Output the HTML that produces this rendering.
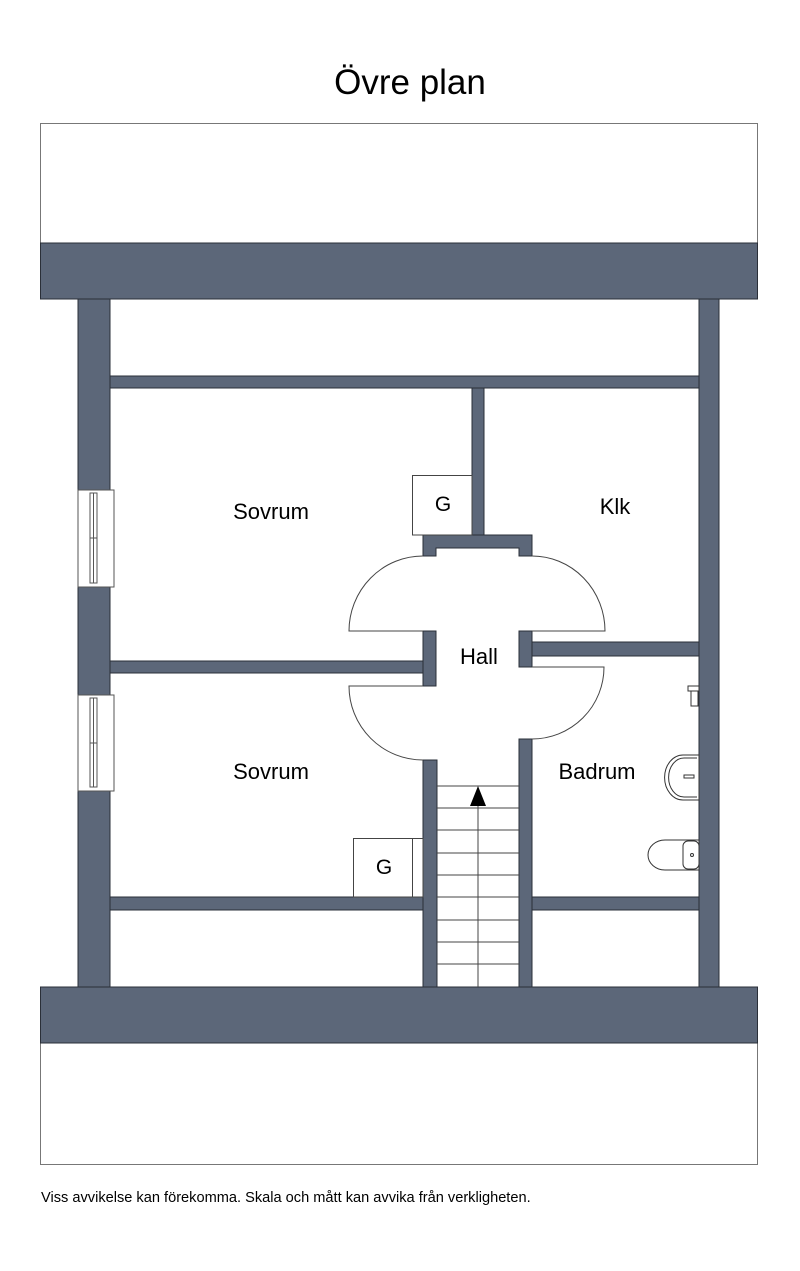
<!DOCTYPE html>
<html><head><meta charset="utf-8"><style>
html,body{margin:0;padding:0;background:#fff;}
svg{display:block;font-family:"Liberation Sans",sans-serif;}
</style></head><body>
<svg width="800" height="1271" viewBox="0 0 800 1271" xmlns="http://www.w3.org/2000/svg">
<text x="410" y="94" font-size="35" text-anchor="middle">Övre plan</text>
<rect x="40.5" y="123.5" width="717" height="120" fill="#fff" stroke="#777" stroke-width="1"/>
<rect x="40.5" y="1043" width="717" height="121.5" fill="#fff" stroke="#777" stroke-width="1"/>
<g fill="#5c6779" stroke="#2a2f38" stroke-width="1">
<rect x="40.5" y="243" width="717" height="56"/>
<rect x="40.5" y="987" width="717" height="56"/>
<rect x="78" y="299" width="32" height="688"/>
<rect x="699" y="299" width="20" height="688"/>
<rect x="110" y="376" width="589" height="12"/>
<rect x="472" y="388" width="12" height="147"/>
<path d="M423 535 H532 V556 H519 V548 H436 V556 H423 Z"/>
<rect x="110" y="661" width="313" height="12"/>
<rect x="423" y="631" width="13" height="55"/>
<rect x="519" y="631" width="13" height="36"/>
<rect x="532" y="642" width="167" height="14"/>
<rect x="423" y="760" width="14" height="227"/>
<rect x="519" y="739" width="13" height="248"/>
<rect x="110" y="897" width="313" height="13"/>
<rect x="532" y="897" width="167" height="13"/>
</g>
<!-- windows -->
<g fill="#fff" stroke="#555" stroke-width="1">
<rect x="78" y="490" width="36" height="97"/>
<rect x="90" y="493" width="7" height="90"/>
<line x1="93.5" y1="493" x2="93.5" y2="583"/>
<line x1="90" y1="538" x2="97" y2="538"/>
<rect x="78" y="695" width="36" height="96"/>
<rect x="90" y="698" width="7" height="89"/>
<line x1="93.5" y1="698" x2="93.5" y2="787"/>
<line x1="90" y1="743" x2="97" y2="743"/>
</g>
<!-- doors -->
<g fill="none" stroke="#444" stroke-width="1">
<path d="M423 631 H349 A74 75 0 0 1 423 556"/>
<path d="M532 631 H605 A73 75 0 0 0 532 556"/>
<path d="M423 686 H349 A74 74 0 0 0 423 760"/>
<path d="M532 667 H604 A72 72 0 0 1 532 739"/>
</g>
<!-- G boxes -->
<rect x="412.5" y="475.5" width="59.5" height="59.5" fill="#fff" stroke="#444"/>
<text x="443" y="511" font-size="21" text-anchor="middle">G</text>
<rect x="353.5" y="838.5" width="59" height="58.5" fill="#fff" stroke="#444"/>
<rect x="412.5" y="838.5" width="10.5" height="58.5" fill="#fff" stroke="#444"/>
<text x="384" y="874" font-size="21" text-anchor="middle">G</text>
<!-- stairs -->
<g stroke="#444" stroke-width="1">
<line x1="437" y1="786" x2="519" y2="786"/>
<line x1="437" y1="808" x2="519" y2="808"/>
<line x1="437" y1="830" x2="519" y2="830"/>
<line x1="437" y1="853" x2="519" y2="853"/>
<line x1="437" y1="875" x2="519" y2="875"/>
<line x1="437" y1="897" x2="519" y2="897"/>
<line x1="437" y1="920" x2="519" y2="920"/>
<line x1="437" y1="942" x2="519" y2="942"/>
<line x1="437" y1="964" x2="519" y2="964"/>
<line x1="478" y1="800" x2="478" y2="987"/>
</g>
<polygon points="478,786 470,806 486,806" fill="#000"/>
<!-- bathroom fixtures -->
<g fill="#fff" stroke="#333" stroke-width="1">
<path d="M699 755 H683 A18 22 0 0 0 683 800 H699 Z"/>
<path d="M697 758 H684 A15 19 0 0 0 684 797 H697"/>
<rect x="684" y="775" width="10" height="3"/>
<path d="M699 840 H665 A17 15 0 0 0 665 870 H699 Z"/>
<rect x="683" y="841" width="16" height="28" rx="5"/>
<circle cx="692" cy="855" r="1.5"/>
<rect x="691" y="688" width="7" height="18"/>
<rect x="688" y="686" width="11" height="5"/>
</g>
<g font-size="22" text-anchor="middle">
<text x="271" y="519">Sovrum</text>
<text x="615" y="514">Klk</text>
<text x="479" y="664">Hall</text>
<text x="271" y="779">Sovrum</text>
<text x="597" y="779">Badrum</text>
</g>
<text x="41" y="1202" font-size="14.6">Viss avvikelse kan förekomma. Skala och mått kan avvika från verkligheten.</text>
</svg>
</body></html>
